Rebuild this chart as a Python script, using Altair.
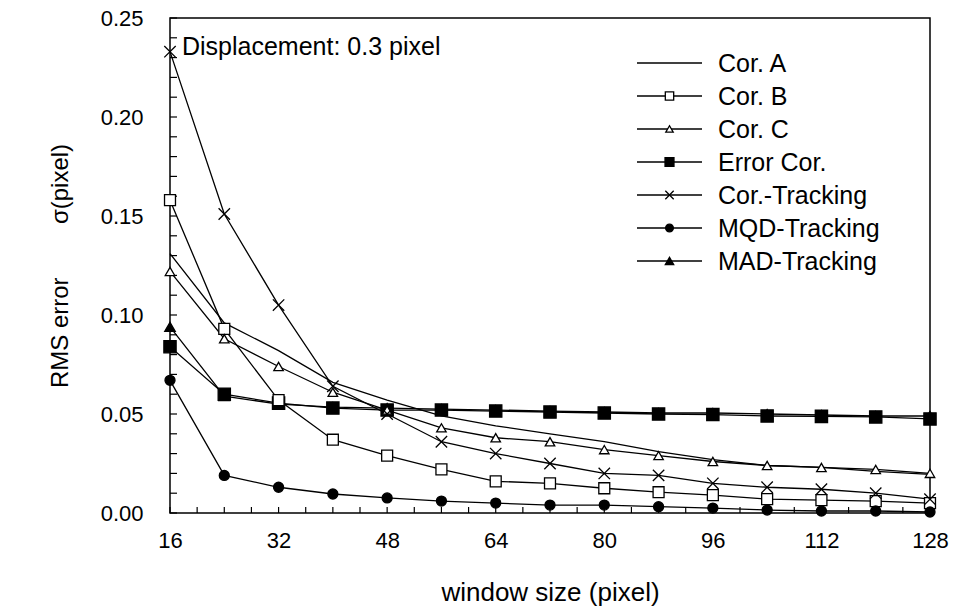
import altair as alt
import pandas as pd

# ---------------- data ----------------
window = [16, 24, 32, 40, 48, 56, 64, 72, 80, 88, 96, 104, 112, 120, 128]

cor_a = [0.131, 0.096, 0.082, 0.066, 0.057, 0.049, 0.044, 0.040, 0.036, 0.031, 0.027, 0.024, 0.023, 0.021, 0.0195]
cor_b = [0.158, 0.093, 0.057, 0.037, 0.029, 0.022, 0.016, 0.015, 0.0125, 0.0105, 0.009, 0.007, 0.0065, 0.006, 0.005]
cor_c = [0.122, 0.088, 0.074, 0.061, 0.052, 0.043, 0.038, 0.036, 0.032, 0.029, 0.026, 0.024, 0.023, 0.022, 0.020]
err_cor = [0.084, 0.060, 0.0555, 0.053, 0.052, 0.052, 0.0515, 0.051, 0.0505, 0.050, 0.0497, 0.049, 0.0488, 0.0485, 0.0475]
cor_track = [0.233, 0.151, 0.105, 0.064, 0.050, 0.036, 0.030, 0.025, 0.020, 0.019, 0.015, 0.013, 0.012, 0.010, 0.007]
mqd_track = [0.067, 0.019, 0.013, 0.0096, 0.0076, 0.006, 0.005, 0.004, 0.004, 0.0032, 0.0025, 0.0015, 0.001, 0.001, 0.0005]
mad_track = [0.094, 0.059, 0.055, 0.0535, 0.053, 0.0525, 0.052, 0.0515, 0.051, 0.0505, 0.0505, 0.050, 0.0495, 0.049, 0.049]

series_names = ["Cor. A", "Cor. B", "Cor. C", "Error Cor.", "Cor.-Tracking", "MQD-Tracking", "MAD-Tracking"]
series_values = [cor_a, cor_b, cor_c, err_cor, cor_track, mqd_track, mad_track]

x_label_values = [16, 32, 48, 64, 80, 96, 112, 128]
x_tick_values = [16, 20, 24, 28, 32, 36, 40, 44, 48, 52, 56, 60, 64, 68, 72, 76, 80,
                 84, 88, 92, 96, 100, 104, 108, 112, 116, 120, 124, 128]
y_label_values = [0.00, 0.05, 0.10, 0.15, 0.20, 0.25]
y_tick_values = [0.00, 0.01, 0.02, 0.03, 0.04, 0.05, 0.06, 0.07, 0.08, 0.09, 0.10,
                 0.11, 0.12, 0.13, 0.14, 0.15, 0.16, 0.17, 0.18, 0.19, 0.20,
                 0.21, 0.22, 0.23, 0.24, 0.25]

annotation = "Displacement: 0.3 pixel"
x_title = "window size (pixel)"
y_title = "RMS error" + "\u00a0" * 8 + "σ(pixel)"

rows = []
for name, vals in zip(series_names, series_values):
    for w, v in zip(window, vals):
        rows.append({"series": name, "window": w, "value": v})
df = pd.DataFrame(rows)

# ---------------- style ----------------
FONT = "Liberation Sans"
W, H = 760, 495
CROSS = "M-1,-1L1,1M-1,1L1,-1"

# marker spec per series: (shape, fill, size, legend size)
markers = {
    "Cor. B": ("square", "white", 120, 70),
    "Cor. C": ("triangle-up", "white", 90, 55),
    "MAD-Tracking": ("triangle-up", "black", 110, 70),
    "Error Cor.": ("square", "black", 150, 80),
    "Cor.-Tracking": (CROSS, None, 130, 70),
    "MQD-Tracking": ("circle", "black", 100, 60),
}

xs = alt.Scale(domain=[16, 128], nice=False, zero=False)
ys = alt.Scale(domain=[0, 0.25], nice=False, zero=False)

x_axis = alt.Axis(values=x_label_values, ticks=False, domain=False, grid=False,
                  labelFont=FONT, labelFontSize=22, labelPadding=17, labelColor="black",
                  labelFlush=False, title=x_title, titleFont=FONT, titleFontSize=26,
                  titleFontWeight="normal", titleColor="black", titlePadding=28)
y_axis = alt.Axis(values=y_label_values, format=".2f", ticks=False, domain=False, grid=False,
                  labelFont=FONT, labelFontSize=22, labelPadding=27, labelColor="black",
                  labelFlush=False, title=y_title, titleFont=FONT, titleFontSize=24,
                  titleFontWeight="normal", titleColor="black", titlePadding=28)


def X(field):
    return alt.X(field, scale=xs, axis=x_axis)


def Y(field):
    return alt.Y(field, scale=ys, axis=y_axis)


layers = []

# inward ticks
layers.append(alt.Chart(pd.DataFrame({"v": y_tick_values})).mark_rule(color="black", strokeWidth=1.2)
              .encode(y=Y("v:Q"), x=alt.value(0), x2=alt.value(7)))
layers.append(alt.Chart(pd.DataFrame({"w": x_tick_values})).mark_rule(color="black", strokeWidth=1.2)
              .encode(x=X("w:Q"), y=alt.value(H), y2=alt.value(H - 6)))

# lines (MAD first so other lines overlay it)
for name in ["MAD-Tracking", "Cor. A", "Cor. B", "Cor. C", "Error Cor.", "Cor.-Tracking", "MQD-Tracking"]:
    layers.append(alt.Chart(df).transform_filter(alt.datum.series == name)
                  .mark_line(color="black", strokeWidth=1.3)
                  .encode(x=X("window:Q"), y=Y("value:Q"), order="window:Q"))

# markers
for name in ["MAD-Tracking", "Error Cor.", "Cor. B", "Cor. C", "Cor.-Tracking", "MQD-Tracking"]:
    shape, fill, size, _ = markers[name]
    if fill is None:
        mk = alt.Chart(df).mark_point(shape=shape, filled=False, stroke="black", strokeWidth=1.3,
                                      size=size, opacity=1)
    else:
        mk = alt.Chart(df).mark_point(shape=shape, filled=True, fill=fill, stroke="black",
                                      strokeWidth=1.3, size=size, opacity=1, fillOpacity=1)
    layers.append(mk.transform_filter(alt.datum.series == name)
                  .encode(x=X("window:Q"), y=Y("value:Q")))

# annotation
layers.append(alt.Chart(pd.DataFrame({"t": [annotation]}))
              .mark_text(align="left", baseline="alphabetic", font=FONT, fontSize=25, color="black")
              .encode(x=alt.value(12), y=alt.value(37), text="t:N"))

# legend (drawn inside plot, upper right)
LX1, LX2, LXM, LXT = 467, 532, 499.5, 548
LY0, LDY = 45, 33
for i, name in enumerate(series_names):
    ly = LY0 + i * LDY
    d = pd.DataFrame({"name": [name]})
    layers.append(alt.Chart(d).mark_rule(color="black", strokeWidth=1.3)
                  .encode(x=alt.value(LX1), x2=alt.value(LX2), y=alt.value(ly)))
    if name in markers:
        shape, fill, _, lsize = markers[name]
        if fill is None:
            mk = alt.Chart(d).mark_point(shape=shape, filled=False, stroke="black", strokeWidth=1.3,
                                         size=lsize, opacity=1)
        else:
            mk = alt.Chart(d).mark_point(shape=shape, filled=True, fill=fill, stroke="black",
                                         strokeWidth=1.3, size=lsize, opacity=1, fillOpacity=1)
        layers.append(mk.encode(x=alt.value(LXM), y=alt.value(ly)))
    layers.append(alt.Chart(d).mark_text(align="left", baseline="middle", font=FONT, fontSize=25,
                                         color="black")
                  .encode(x=alt.value(LXT), y=alt.value(ly + 1), text="name:N"))

chart = (alt.layer(*layers)
         .properties(width=W, height=H,
                     padding={"left": 170, "top": 18, "right": 25, "bottom": 98},
                     autosize=alt.AutoSizeParams(type="none"),
                     background="white")
         .configure_view(stroke="black", strokeWidth=1.5))

chart.save("out.html", embed_options={"renderer": "svg", "actions": False})
